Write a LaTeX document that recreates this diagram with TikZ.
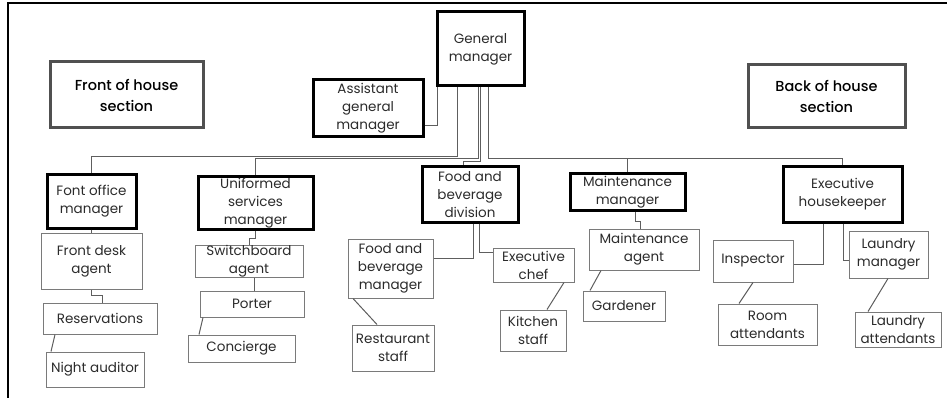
\documentclass[tikz,border=0pt]{standalone}
\usepackage{fontspec}
\setmainfont{Poppins}
\newfontfamily\secfont{Poppins Medium}
\usepackage{tikz}
\usepackage{xcolor}
\usetikzlibrary{positioning}
\definecolor{Box_Gray}{HTML}{7A7A7A}
\definecolor{Sec_Gray}{HTML}{505050}
\definecolor{Link_Gray}{HTML}{5E5E5E}
\definecolor{Ink}{HTML}{2B2B2B}

\tikzset{
    headbox/.style={draw=black, line width=3pt, inner sep=0pt, align=center,
        text=Ink, font=\fontsize{13.5}{18}\selectfont},
    staffbox/.style={draw=Box_Gray, line width=1pt, inner sep=0pt, align=center,
        text=Ink, font=\fontsize{13.5}{18}\selectfont},
    sectionbox/.style={draw=Sec_Gray, line width=3pt, inner sep=0pt, align=center,
        text=black, font=\fontsize{14.5}{21}\secfont},
    link/.style={draw=Link_Gray, line width=1pt}
}

\begin{document}
\begin{tikzpicture}[x=1pt, y=-1pt]
        % Parameters
        \def\PicW{947}
        \def\PicH{398}
        \useasboundingbox (0,0) rectangle (\PicW,\PicH);

        % 1. Frame (top and left edge)
        \draw[line width=1.5pt] (8,\PicH) -- (8,3) -- (\PicW,3);

        % 2. Sections
        \node[sectionbox, minimum width=153pt, minimum height=66pt] (foh) at (126.5,95) {Front of house\\section};
        \node[sectionbox, minimum width=157pt, minimum height=63pt] (boh) at (826.5,96.5) {Back of house\\section};

        % 3. Top management
        \node[headbox, minimum width=87pt, minimum height=74pt] (gm) at (480.5,49) {General\\manager};
        \node[headbox, minimum width=110pt, minimum height=57pt] (agm) at (368,108.5) {Assistant\\general\\manager};

        % 4. Department heads
        \node[headbox, minimum width=89pt, minimum height=53pt] (fom) at (91.5,201.5) {Font office\\manager};
        \node[headbox, minimum width=115pt, minimum height=52pt] (ums) at (255.5,203) {Uniformed\\services\\manager};
        \node[headbox, minimum width=96pt, minimum height=55pt] (fbd) at (470,194.5) {Food and\\beverage\\division};
        \node[headbox, minimum width=115pt, minimum height=36pt] (mm) at (627.5,192) {Maintenance\\manager};
        \node[headbox, minimum width=119pt, minimum height=55pt] (eh) at (842.5,194.5) {Executive\\housekeeper};

        % 5. Staff
        \node[staffbox, minimum width=101pt, minimum height=56pt] (fda) at (91.5,261) {Front desk\\agent};
        \node[staffbox, minimum width=114pt, minimum height=31pt] (res) at (100,318.5) {Reservations};
        \node[staffbox, minimum width=98pt, minimum height=35pt] (na) at (95,369.5) {Night auditor};
        \node[staffbox, minimum width=108pt, minimum height=31pt] (swb) at (249,261.5) {Switchboard\\agent};
        \node[staffbox, minimum width=104pt, minimum height=26pt] (por) at (252,304) {Porter};
        \node[staffbox, minimum width=107pt, minimum height=27pt] (con) at (241.5,348.5) {Concierge};
        \node[staffbox, minimum width=85pt, minimum height=59pt] (fbm) at (390.5,268.5) {Food and\\beverage\\manager};
        \node[staffbox, minimum width=82pt, minimum height=46pt] (rst) at (393,348) {Restaurant\\staff};
        \node[staffbox, minimum width=81pt, minimum height=34pt] (ech) at (533.5,265) {Executive\\chef};
        \node[staffbox, minimum width=66pt, minimum height=41pt] (kst) at (533,330.5) {Kitchen\\staff};
        \node[staffbox, minimum width=110pt, minimum height=41pt] (mag) at (644,249.5) {Maintenance\\agent};
        \node[staffbox, minimum width=82pt, minimum height=30pt] (gar) at (624,306) {Gardener};
        \node[staffbox, minimum width=80pt, minimum height=42pt] (ins) at (753,261) {Inspector};
        \node[staffbox, minimum width=99pt, minimum height=41pt] (roo) at (767.5,324.5) {Room\\attendants};
        \node[staffbox, minimum width=79pt, minimum height=47pt] (lmg) at (888.5,254.5) {Laundry\\manager};
        \node[staffbox, minimum width=86pt, minimum height=35pt] (lat) at (898,329.5) {Laundry\\attendants};

        % 6. Lines from the top
        \draw[link] ([yshift=-17pt]agm.east) -| ([xshift=-43.5pt]gm.south);
        \draw[link] ([xshift=-23.5pt]gm.south) -- ++(0,69) -| (fom.north);
        \draw[link] ([xshift=-2.5pt]gm.south) -- ++(0,71) -| (ums.north);
        \draw[link] (gm.south) -- ++(0,74) -| ([xshift=-7pt]fbd.north);
        \draw[link] ([xshift=7.5pt]gm.south) -- ++(0,71) coordinate (rbus) -| (eh.north);
        \draw[link] (rbus -| mm.north) -- (mm.north);

        % 7. Lines inside departments
        \draw[link] (fom.south) -- (fda.north);
        \draw[link] (fda.south) -- ++(0,6) -| ([xshift=2pt]res.north);
        \draw[link] ([xshift=-45pt]res.south) -- ([xshift=-44pt]na.north);
        \draw[link] (ums.south) -- ++(0,8) -| (swb.north);
        \draw[link] ([xshift=5pt]swb.south) -- ([xshift=2pt]por.north);
        \draw[link] ([xshift=-49pt]por.south) -- ([xshift=-42.5pt]con.north);
        \draw[link] ([xshift=3pt]fbd.south) |- ([yshift=10pt]fbm.east);
        \draw[link] ([xshift=9pt]fbd.south) |- ([yshift=13pt]ech.west);
        \draw[link] ([xshift=-37.5pt]fbm.south) -- ([xshift=-16pt]rst.north);
        \draw[link] ([xshift=30.5pt]ech.south) -- ([xshift=14pt]kst.north);
        \draw[link] ([xshift=8pt]mm.south) -- ++(0,10) -| ([xshift=-4pt]mag.north);
        \draw[link] ([xshift=-43pt]mag.south) -- ([xshift=-34pt]gar.north);
        \draw[link] ([xshift=-19.5pt]eh.south) |- ([yshift=-3pt]ins.east);
        \draw[link] ([xshift=0.5pt]eh.south) |- ([yshift=-5.5pt]lmg.west);
        \draw[link] (ins.south) -- ([xshift=-28.5pt]roo.north);
        \draw[link] ([xshift=-0.5pt]lmg.south) -- ([xshift=-30pt]lat.north);

    \end{tikzpicture}
\end{document}
